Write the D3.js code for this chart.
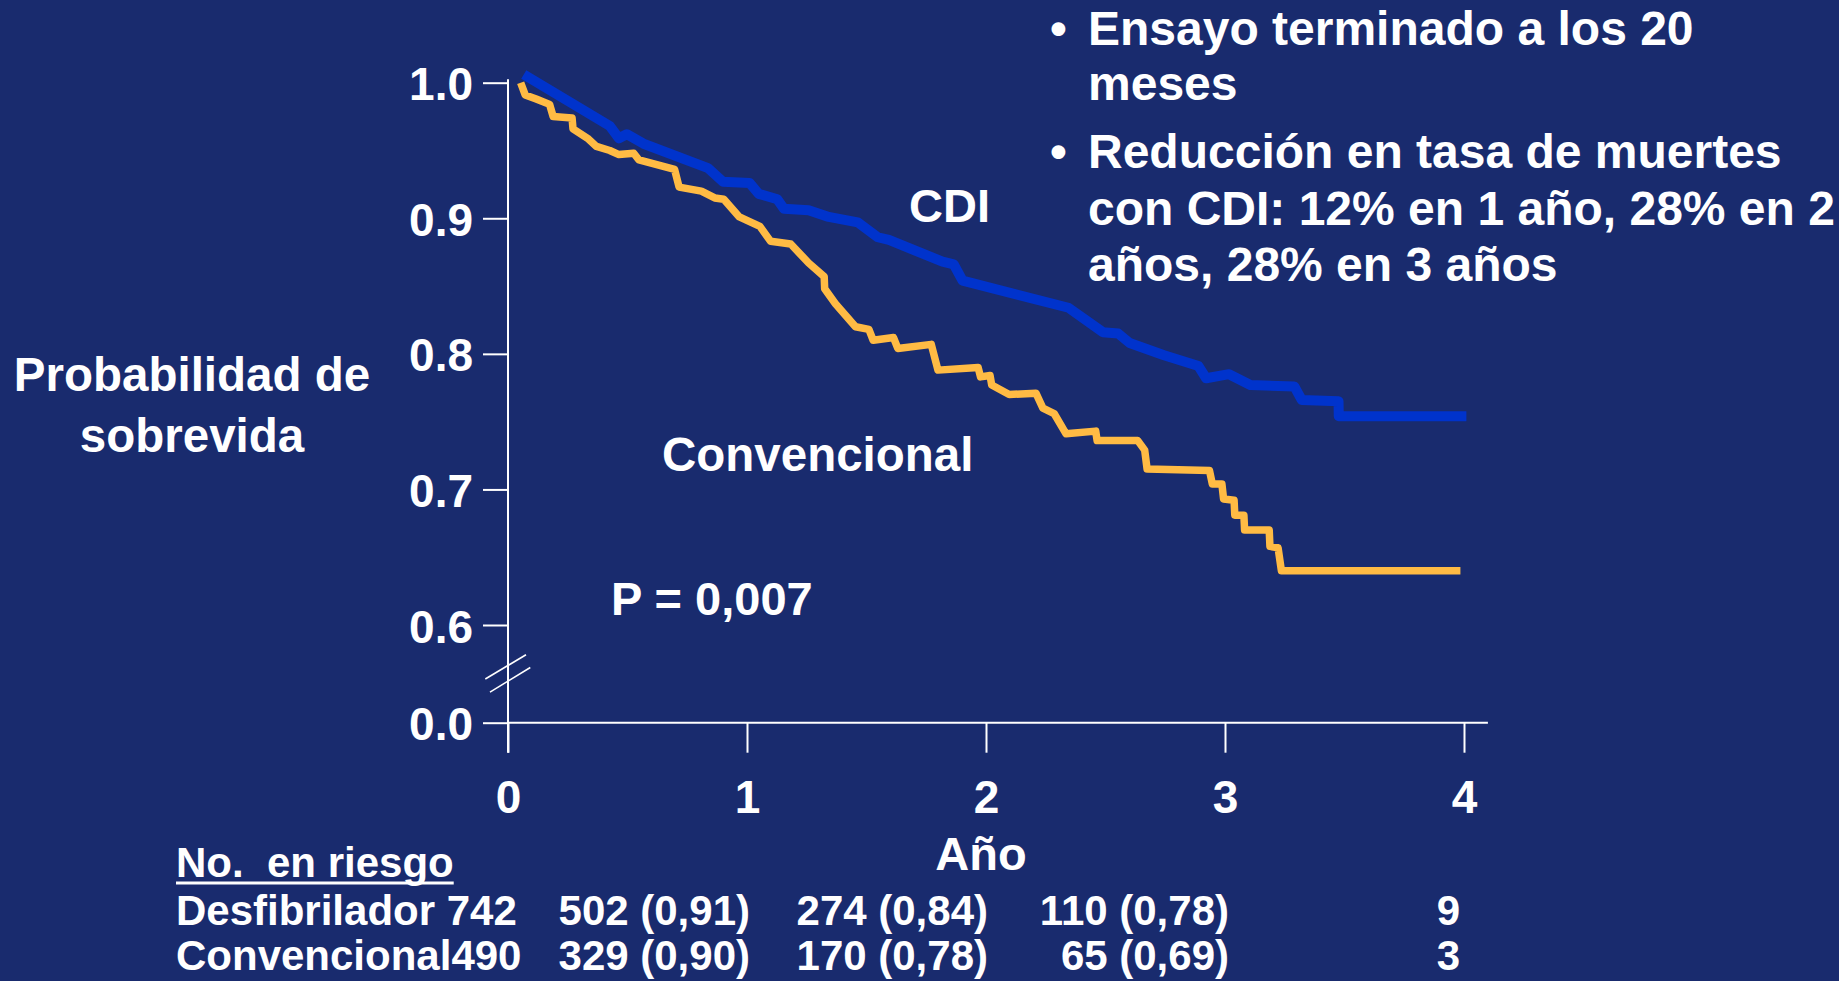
<!DOCTYPE html>
<html>
<head>
<meta charset="utf-8">
<script src="https://cdn.jsdelivr.net/npm/d3@7"></script>
<style>
  html, body { margin: 0; padding: 0; background: #192b6e; }
  svg { display: block; }
  text { font-family: "Liberation Sans", Arial, sans-serif; font-weight: bold; fill: #ffffff; }
</style>
</head>
<body>
<svg id="chart" width="1839" height="981"></svg>
<script>
// Follow-up in years and survival tick values
const years = [0, 1, 2, 3, 4];
const survTicks = [0.0, 0.6, 0.7, 0.8, 0.9, 1.0];

// Kaplan-Meier survival, ICD (CDI) arm
const cdiTime = [0.066, 0.426, 0.464, 0.497, 0.567, 0.837, 0.899, 1.011, 1.049, 1.127, 1.155, 1.258,
  1.342, 1.463, 1.547, 1.594, 1.818, 1.865, 1.902, 2.345, 2.489, 2.553, 2.601, 2.745, 2.889, 2.921,
  3.017, 3.106, 3.290, 3.321, 3.475, 3.476, 4.010];
const cdiSurv = [1.006, 0.968, 0.959, 0.962, 0.955, 0.937, 0.927, 0.926, 0.918, 0.914, 0.907, 0.906,
  0.901, 0.897, 0.886, 0.884, 0.868, 0.866, 0.854, 0.834, 0.816, 0.815, 0.808, 0.799, 0.791, 0.782,
  0.785, 0.777, 0.776, 0.766, 0.765, 0.754, 0.754];

// Kaplan-Meier survival, conventional therapy arm
const convTime = [0.053, 0.072, 0.118, 0.174, 0.189, 0.268, 0.272, 0.333, 0.370, 0.426, 0.464, 0.526,
  0.548, 0.697, 0.716, 0.809, 0.865, 0.903, 0.968, 1.054, 1.099, 1.183, 1.258, 1.323, 1.325, 1.370,
  1.454, 1.510, 1.528, 1.613, 1.631, 1.771, 1.799, 1.967, 1.977, 2.017, 2.024, 2.097, 2.209, 2.238,
  2.285, 2.335, 2.459, 2.465, 2.635, 2.664, 2.674, 2.935, 2.947, 2.987, 2.994, 3.038, 3.041, 3.079,
  3.082, 3.185, 3.188, 3.222, 3.236, 3.985];
const convSurv = [1.000, 0.991, 0.988, 0.984, 0.975, 0.974, 0.966, 0.959, 0.953, 0.950, 0.947, 0.948,
  0.943, 0.936, 0.923, 0.920, 0.915, 0.914, 0.901, 0.894, 0.883, 0.881, 0.867, 0.857, 0.848, 0.837,
  0.820, 0.818, 0.810, 0.812, 0.804, 0.807, 0.788, 0.790, 0.783, 0.784, 0.777, 0.770, 0.771, 0.760,
  0.756, 0.741, 0.743, 0.736, 0.736, 0.729, 0.715, 0.714, 0.704, 0.704, 0.693, 0.692, 0.681, 0.681,
  0.670, 0.670, 0.658, 0.657, 0.640, 0.640];

// Number at risk table
const riskHeader = "No.  en riesgo";
const riskLabels = ["Desfibrilador 742", "Convencional490"];
const riskDesf = ["502 (0,91)", "274 (0,84)", "110 (0,78)", "9"];
const riskConv = ["329 (0,90)", "170 (0,78)", "65 (0,69)", "3"];

// Bullet notes
const notes = [
  ["Ensayo terminado a los 20", "meses"],
  ["Reducción en tasa de muertes", "con CDI: 12% en 1 año, 28% en 2", "años, 28% en 3 años"]
];

const svg = d3.select("#chart");
const W = 1839, H = 981;
svg.append("rect").attr("width", W).attr("height", H).attr("fill", "#192b6e");

// Scales: y axis is broken between 0.0 and 0.6
const x = d3.scaleLinear().domain([0, 4]).range([508, 1464]);
const y = d3.scaleLinear().domain([0, 0.6, 1.0]).range([722.7, 625, 82.7]);

const axisColor = "#ffffff";
const fontFamily = "'Liberation Sans', Arial, sans-serif";

// Y axis
const gy = svg.append("g").attr("transform", `translate(${x(0)},0)`);
gy.call(d3.axisLeft(y).tickValues(survTicks).tickFormat(d3.format(".1f")).tickSize(25).tickPadding(10));
gy.select(".domain").remove();
gy.selectAll(".tick line").attr("stroke", axisColor).attr("stroke-width", 2);
gy.selectAll(".tick text")
  .attr("fill", "#fff").attr("font-size", 46).attr("dy", null)
  .attr("y", 17).style("font-family", fontFamily).style("font-weight", "bold");
gy.append("line")
  .attr("x1", 0).attr("x2", 0)
  .attr("y1", y(1.0) - 3.5).attr("y2", y(0) + 30)
  .attr("stroke", axisColor).attr("stroke-width", 2);

// Axis break marks
const yb = (y(0) + y(0.6)) / 2;
[[-22.7, 12.2, 18, -12.1, -7], [-18, 12.3, 22.3, -12.4, 6]].forEach(([ax, ay, bx, by, off]) => {
  svg.append("line")
    .attr("x1", x(0) + ax).attr("y1", yb + off + ay)
    .attr("x2", x(0) + bx).attr("y2", yb + off + by)
    .attr("stroke", axisColor).attr("stroke-width", 1.6);
});

// X axis
const gx = svg.append("g").attr("transform", `translate(0,${y(0)})`);
gx.call(d3.axisBottom(x).tickValues(years).tickFormat(d3.format("d")).tickSize(30).tickSizeOuter(0));
gx.select(".domain").remove();
gx.selectAll(".tick line").attr("stroke", axisColor).attr("stroke-width", 2);
gx.selectAll(".tick text")
  .attr("fill", "#fff").attr("font-size", 46).attr("dy", null).attr("y", 90)
  .style("font-family", fontFamily).style("font-weight", "bold");
gx.append("line")
  .attr("x1", x(0)).attr("x2", x(4.1)).attr("y1", 0).attr("y2", 0)
  .attr("stroke", axisColor).attr("stroke-width", 2);

// Survival curves
const line = d3.line().x(d => x(d[0])).y(d => y(d[1]));
const cdi = d3.zip(cdiTime, cdiSurv);
const conv = d3.zip(convTime, convSurv);

svg.append("path").datum(conv)
  .attr("d", line).attr("fill", "none")
  .attr("stroke", "#ffbb44").attr("stroke-width", 7.5)
  .attr("stroke-linejoin", "round");
svg.append("path").datum(cdi)
  .attr("d", line).attr("fill", "none")
  .attr("stroke", "#0033cc").attr("stroke-width", 10)
  .attr("stroke-linejoin", "round");

// Curve labels and p-value
svg.append("text").attr("x", 909).attr("y", 222).attr("font-size", 47).text("CDI");
svg.append("text").attr("x", 662).attr("y", 471).attr("font-size", 47.5).text("Convencional");
svg.append("text").attr("x", 611).attr("y", 615).attr("font-size", 47).text("P = 0,007");

// Y axis title
const yt = svg.append("text").attr("text-anchor", "middle").attr("font-size", 47.5);
yt.append("tspan").attr("x", 192).attr("y", 391).text("Probabilidad de");
yt.append("tspan").attr("x", 192).attr("y", 452).text("sobrevida");

// X axis title
svg.append("text").attr("x", 981).attr("y", 870).attr("text-anchor", "middle")
  .attr("font-size", 47).text("Año");

// Bullet notes
const noteBaselines = [[45, 100], [168, 225, 281]];
notes.forEach((lines, i) => {
  svg.append("text").attr("x", 1050).attr("y", noteBaselines[i][0]).attr("font-size", 48).text("•");
  lines.forEach((s, j) => {
    svg.append("text").attr("x", 1088).attr("y", noteBaselines[i][j])
      .attr("font-size", 48).text(s);
  });
});

// Number at risk table
const tableFont = 42;
const header = svg.append("text").attr("x", 176).attr("y", 877)
  .attr("font-size", tableFont).attr("xml:space", "preserve").style("white-space", "pre")
  .text(riskHeader);
const hb = header.node().getBBox();
svg.append("line").attr("x1", hb.x).attr("x2", hb.x + hb.width)
  .attr("y1", 883).attr("y2", 883).attr("stroke", "#fff").attr("stroke-width", 3);

const rowBaselines = [925, 970];
const colShift = [3, 2, 4, -4];
[riskDesf, riskConv].forEach((row, r) => {
  svg.append("text").attr("x", 176).attr("y", rowBaselines[r])
    .attr("font-size", tableFont).text(riskLabels[r]);
  row.forEach((v, k) => {
    svg.append("text").attr("x", x(years[k + 1]) + colShift[k]).attr("y", rowBaselines[r])
      .attr("text-anchor", "end").attr("font-size", tableFont).text(v);
  });
});
</script>
</body>
</html>
